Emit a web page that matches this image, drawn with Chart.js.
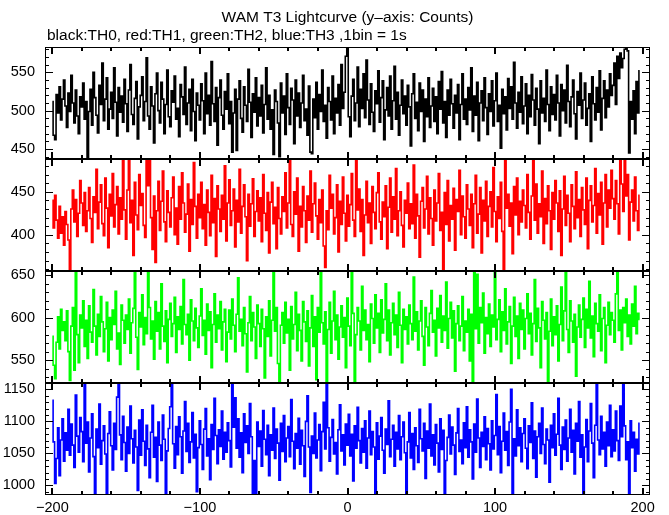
<!DOCTYPE html>
<html>
<head>
<meta charset="utf-8">
<script src="https://cdn.jsdelivr.net/npm/chart.js@4.4.1/dist/chart.umd.min.js"></script>
<style>
  html, body { margin: 0; padding: 0; background: #fff; }
  #lc { display: block; }
</style>
</head>
<body>
<canvas id="lc" width="669" height="515"></canvas>
<script>
// ─── DATA: counts per 1 s bin, first bin at t = -200 s ───
const T0 = -200;

const th0 = [
  512, 468, 462, 521, 497, 531, 488, 515, 540, 506, 478, 523, 499, 546, 510, 484, 527, 493, 470, 518,
  505, 536, 489, 512, 438, 499, 528, 481, 550, 517, 494, 471, 533, 508, 562, 487, 515, 543, 476, 502,
  524, 490, 556, 511, 467, 530, 498, 519, 485, 541, 509, 473, 527, 560, 495, 482, 516, 538, 463, 505,
  520, 544, 487, 512, 569, 493, 476, 531, 506, 458, 522, 549, 500, 484, 537, 515, 470, 508, 553, 492,
  479, 526, 511, 545, 489, 503, 466, 534, 518, 495, 557, 482, 510, 528, 474, 541, 499, 461, 523, 507,
  488, 535, 513, 470, 549, 496, 520, 481, 564, 509, 486, 530, 455, 517, 540, 494, 476, 525, 502, 548,
  483, 512, 446, 497, 528, 448, 515, 539, 490, 472, 531, 507, 486, 554, 511, 465, 522, 498, 543, 480,
  517, 493, 533, 471, 508, 556, 489, 520, 476, 501, 443, 527, 512, 484, 440, 536, 497, 519, 469, 548,
  504, 482, 529, 514, 457, 540, 493, 523, 478, 510, 546, 487, 502, 468, 532, 446, 444, 515, 491, 537,
  476, 521, 499, 553, 486, 507, 464, 530, 512, 488, 545, 470, 516, 497, 534, 481, 560, 503, 524, 571,
  583, 492, 466, 519, 541, 487, 510, 557, 479, 528, 503, 548, 491, 566, 514, 482, 535, 498, 473, 526,
  509, 552, 485, 517, 539, 462, 501, 530, 493, 545, 476, 513, 558, 489, 524, 468, 507, 540, 496, 519,
  481, 533, 505, 454, 522, 548, 490, 511, 474, 536, 499, 527, 460, 515, 492, 543, 478, 506, 529, 486,
  518, 470, 538, 502, 551, 484, 512, 465, 527, 494, 541, 509, 477, 520, 497, 534, 462, 508, 548, 489,
  515, 482, 530, 501, 556, 473, 519, 494, 537, 461, 510, 526, 487, 543, 504, 469, 522, 499, 539, 480,
  513, 549, 486, 507, 451, 528, 496, 518, 475, 542, 503, 531, 489, 563, 510, 477, 524, 498, 544, 483,
  506, 535, 470, 520, 492, 547, 514, 481, 529, 502, 457, 539, 497, 516, 486, 553, 508, 474, 531, 495,
  521, 488, 546, 510, 467, 534, 500, 527, 484, 559, 512, 479, 518, 540, 496, 463, 525, 507, 549, 490,
  514, 536, 481, 503, 522, 460, 544, 509, 488, 530, 498, 552, 475, 516, 539, 491, 527, 505, 548, 520,
  533, 562, 508, 571, 542, 575, 556, 568, 580, 583, 578, 445, 512, 489, 526, 470, 538, 497, 552
];

const th1 = [
  440, 408, 446, 417, 396, 433, 402, 421, 388, 427, 412, 394, 360, 430, 452, 415, 441, 398, 425, 463,
  437, 411, 449, 404, 428, 455, 419, 391, 444, 426, 476, 407, 438, 458, 413, 399, 466, 431, 385, 447,
  422, 471, 409, 435, 456, 401, 443, 418, 488, 429, 395, 452, 488, 414, 440, 376, 461, 423, 406, 470,
  434, 448, 411, 397, 486, 457, 488, 420, 383, 445, 368, 428, 462, 405, 439, 474, 415, 392, 451, 426,
  409, 443, 467, 400, 431, 389, 456, 418, 472, 437, 403, 424, 459, 381, 441, 412, 484, 433, 396, 447,
  420, 461, 407, 435, 388, 452, 426, 399, 469, 414, 442, 375, 457, 430, 404, 446, 418, 480, 393, 437,
  464, 411, 428, 453, 386, 440, 415, 476, 402, 433, 458, 421, 370, 447, 410, 436, 465, 398, 427, 451,
  416, 443, 392, 470, 425, 405, 449, 379, 438, 461, 413, 432, 384, 455, 419, 401, 444, 427, 472, 408,
  437, 488, 412, 398, 450, 424, 466, 381, 433, 409, 456, 428, 391, 445, 417, 474, 403, 436, 460, 422,
  395, 441, 414, 452, 387, 362, 428, 406, 469, 431, 447, 401, 420, 458, 380, 439, 412, 467, 425, 393,
  446, 410, 435, 471, 417, 398, 488, 429, 453, 404, 441, 376, 423, 462, 414, 437, 390, 456, 426, 407,
  449, 472, 415, 395, 438, 421, 457, 384, 432, 466, 403, 444, 418, 477, 399, 428, 450, 411, 386, 440,
  425, 460, 407, 436, 413, 481, 396, 447, 422, 374, 439, 455, 408, 430, 468, 401, 443, 419, 388, 452,
  416, 437, 471, 405, 426, 358, 449, 412, 463, 393, 434, 418, 454, 382, 441, 427, 475, 400, 445, 421,
  396, 458, 430, 411, 447, 385, 436, 469, 402, 424, 455, 379, 440, 416, 462, 398, 433, 450, 409, 478,
  427, 392, 444, 419, 461, 404, 358, 488, 431, 447, 410, 437, 378, 456, 423, 466, 400, 439, 415, 452,
  434, 408, 470, 426, 395, 445, 488, 417, 459, 402, 436, 421, 474, 390, 442, 413, 457, 428, 383, 449,
  418, 463, 437, 404, 451, 376, 430, 468, 411, 446, 425, 392, 458, 433, 407, 473, 420, 441, 398, 455,
  429, 412, 466, 384, 440, 457, 415, 434, 477, 402, 448, 423, 461, 389, 437, 470, 409, 452, 431, 475,
  442, 418, 463, 436, 401, 486, 459, 427, 488, 445, 470, 394, 438, 452, 416, 467, 428, 405, 446
];

const th2 = [
  578, 544, 528, 571, 601, 563, 610, 585, 595, 573, 608, 560, 526, 590, 612, 538, 655, 580, 547, 603,
  588, 620, 566, 597, 552, 614, 583, 571, 633, 590, 556, 604, 578, 625, 595, 560, 587, 618, 549, 600,
  574, 609, 592, 631, 563, 582, 545, 615, 597, 570, 603, 586, 622, 558, 594, 611, 655, 577, 539, 606,
  589, 627, 568, 600, 581, 655, 612, 575, 596, 551, 619, 584, 606, 563, 640, 590, 572, 608, 547, 598,
  617, 578, 593, 624, 559, 601, 586, 613, 569, 645, 592, 580, 604, 550, 621, 596, 573, 611, 588, 565,
  602, 634, 579, 597, 557, 616, 585, 607, 541, 592, 628, 571, 603, 587, 619, 562, 595, 610, 548, 583,
  609, 575, 622, 591, 560, 604, 647, 584, 598, 567, 612, 581, 536, 594, 625, 573, 606, 589, 552, 615,
  593, 566, 610, 587, 529, 601, 578, 620, 555, 597, 655, 584, 612, 546, 523, 591, 606, 570, 618, 582,
  598, 538, 613, 575, 592, 630, 561, 604, 585, 549, 619, 595, 572, 608, 543, 588, 626, 566, 601, 527,
  612, 583, 655, 594, 569, 607, 523, 586, 618, 558, 596, 631, 574, 603, 551, 589, 614, 577, 600, 541,
  623, 590, 567, 655, 605, 523, 580, 612, 596, 562, 637, 585, 609, 574, 592, 548, 616, 599, 570, 627,
  588, 605, 559, 621, 582, 598, 640, 573, 609, 556, 594, 617, 580, 603, 565, 630, 591, 547, 610, 586,
  601, 569, 615, 593, 574, 648, 584, 607, 562, 596, 620, 578, 544, 612, 589, 567, 605, 632, 583, 597,
  555, 611, 588, 626, 571, 602, 585, 642, 564, 599, 618, 576, 608, 537, 593, 614, 573, 590, 625, 561,
  596, 583, 610, 549, 604, 523, 655, 587, 651, 570, 612, 594, 629, 558, 600, 581, 616, 566, 603, 589,
  655, 574, 598, 621, 560, 607, 585, 634, 569, 595, 613, 546, 590, 624, 578, 602, 552, 617, 586, 609,
  563, 599, 628, 581, 605, 556, 593, 645, 572, 611, 588, 541, 619, 597, 575, 606, 523, 584, 622, 567,
  601, 580, 614, 549, 592, 636, 573, 608, 655, 586, 559, 620, 596, 571, 604, 531, 589, 615, 577, 598,
  623, 565, 610, 588, 643, 576, 602, 554, 617, 593, 584, 627, 561, 599, 612, 547, 591, 618, 580, 606,
  597, 571, 628, 655, 585, 609, 562, 612, 594, 622, 578, 603, 569, 616, 590, 637, 581, 605, 598
];

const th3 = [
  1133, 1068, 1003, 1042, 1090, 1015, 1071, 1104, 1038, 1082, 1055, 1119, 1047, 1096, 1063, 1028, 1141, 1077, 1052, 1106,
  1084, 1037, 1160, 1066, 1099, 1021, 1074, 1112, 1045, 985, 1088, 1059, 1127, 1033, 1070, 1093, 1049, 985, 1081, 1115,
  1062, 1024, 1097, 1056, 1138, 1160, 1079, 1040, 1108, 1067, 1022, 1091, 1050, 1124, 1073, 1035, 1086, 1060, 992, 1102,
  1047, 1118, 1069, 1031, 1094, 1057, 1012, 1083, 1125, 1044, 1075, 1006, 1099, 1063, 1039, 1110, 1072, 986, 1054, 1089,
  1123, 1160, 1065, 1027, 1092, 1048, 1107, 1076, 1019, 1085, 1131, 1053, 1097, 1036, 1068, 1114, 1043, 1080, 990, 1059,
  1101, 1064, 1025, 1088, 1120, 1046, 1073, 1009, 1095, 1056, 1136, 1078, 1034, 1087, 1061, 1116, 1041, 1083, 1052, 1098,
  1070, 1029, 1160, 1091, 1137, 1058, 1104, 1044, 1082, 1020, 1112, 1067, 1093, 1050, 1128, 1076, 986, 1039, 988, 1099,
  1061, 1085, 1030, 1117, 1072, 1048, 1094, 1015, 1079, 1055, 1121, 1042, 1088, 1066, 1008, 1097, 1053, 1109, 1037, 1074,
  1092, 1045, 1134, 1069, 1026, 1081, 1058, 1105, 1033, 1086, 1062, 1014, 1100, 1140, 1060, 989, 1077, 1050, 1113, 1043,
  1071, 1095, 1023, 1084, 1130, 1057, 1160, 1090, 1038, 1075, 1103, 1049, 1067, 1018, 1087, 1126, 1054, 1079, 1032, 1096,
  1063, 1111, 1046, 1080, 1007, 1093, 1058, 1122, 1070, 1035, 1089, 1052, 1101, 1027, 1074, 1116, 1048, 1084, 1060, 987,
  1098, 1041, 1077, 1106, 1055, 1019, 1088, 1064, 1132, 1045, 1072, 1094, 1030, 1083, 1057, 1109, 1040, 1076, 1099, 1051,
  986, 1068, 1114, 1043, 1081, 1025, 1090, 1062, 1036, 1119, 1073, 1054, 1097, 1011, 1085, 1058, 1127, 1046, 1079, 1032,
  1095, 1066, 1021, 1104, 1056, 1086, 987, 1039, 1075, 1110, 1049, 1091, 1063, 1017, 1082, 1120, 1053, 1071, 1034, 1098,
  1059, 1123, 1044, 1087, 1068, 1010, 1096, 1052, 1135, 1074, 1028, 1083, 1061, 1107, 1040, 1089, 1065, 1024, 1101, 1057,
  1078, 1142, 1048, 1092, 1020, 1069, 1113, 1055, 1084, 1031, 1099, 1150, 985, 1073, 1046, 1118, 1062, 1090, 1037, 1081,
  1104, 1058, 1026, 1093, 1067, 1129, 1042, 1085, 1013, 1076, 1097, 1050, 1121, 1064, 1034, 1088, 1071, 1005, 1094, 1059,
  1112, 1047, 1080, 1136, 1063, 1025, 1091, 1056, 1102, 1038, 1074, 1119, 1052, 1086, 1018, 1097, 1069, 1131, 1044, 1079,
  986, 1060, 1103, 1037, 1085, 1128, 1066, 1012, 1094, 1160, 1071, 1048, 1108, 1057, 1083, 1030, 1099, 1062, 1125, 1045,
  1087, 1054, 1116, 1070, 1039, 1124, 1076, 1160, 1093, 1040, 1068, 988, 1101, 1059, 1083, 1022, 1072, 1049, 1097
];

// tick labels
const xTicks = [-200, -100, 0, 100, 200];
const yTicks0 = [450, 500, 550];
const yTicks1 = [400, 450];
const yTicks2 = [550, 600, 650];
const yTicks3 = [1000, 1050, 1100, 1150];

const TITLE = 'WAM T3 Lightcurve (y\u2013axis: Counts)';
const SUBTITLE = 'black:TH0, red:TH1, green:TH2, blue:TH3 ,1bin = 1s';

// ─── PANELS ───
const FONT = '"Liberation Sans", Arial, Helvetica, sans-serif';
const panels = [
  { axis: 'y0', data: th0, color: '#000000', min: 437, max: 583, ticks: yTicks0 },
  { axis: 'y1', data: th1, color: '#ff0000', min: 358, max: 488, ticks: yTicks1 },
  { axis: 'y2', data: th2, color: '#00ff00', min: 523, max: 655, ticks: yTicks2 },
  { axis: 'y3', data: th3, color: '#0000ff', min: 985, max: 1160, ticks: yTicks3 }
];

function toPoints(arr) {
  return arr.map((v, i) => ({ x: T0 + i, y: v }));
}

function yAxis(p) {
  return {
    type: 'linear',
    position: 'left',
    stack: 'lc',
    stackWeight: 1,
    min: p.min,
    max: p.max,
    grid: { display: false, drawTicks: false },
    border: { display: false },
    afterBuildTicks: s => { s.ticks = p.ticks.map(v => ({ value: v })); },
    afterFit: s => { s.width = 45; },
    ticks: {
      color: '#000',
      padding: 10,
      autoSkip: false,
      font: { family: FONT, size: 14.5 },
      callback: v => String(v)
    }
  };
}

// scales are listed bottom panel first: Chart.js puts the last stacked left axis on top
const scales = {
  x: {
    type: 'linear',
    min: -205,
    max: 205,
    grid: { display: false, drawTicks: false },
    border: { display: false },
    afterBuildTicks: s => { s.ticks = xTicks.map(v => ({ value: v })); },
    afterFit: s => { s.height = 20; },
    ticks: {
      color: '#000',
      padding: 4,
      maxRotation: 0,
      autoSkip: false,
      font: { family: FONT, size: 14.5 },
      callback: v => (v < 0 ? '\u2212' + Math.abs(v) : String(v))
    }
  }
};
for (let k = panels.length - 1; k >= 0; k--) scales[panels[k].axis] = yAxis(panels[k]);

// frames, inward ticks and the two title lines
const framePlugin = {
  id: 'frames',
  afterDatasetsDraw(chart) {
    const ctx = chart.ctx;
    const xs = chart.scales.x;
    const l = chart.chartArea.left, r = chart.chartArea.right;
    ctx.save();
    ctx.strokeStyle = '#000';
    for (const p of panels) {
      const ys = chart.scales[p.axis];
      const t = Math.round(ys.top), b = Math.round(ys.bottom);
      ctx.lineWidth = 1;
      ctx.strokeRect(l + 0.5, t + 0.5, r - l - 1, b - t - 1);
      // y ticks every 10 counts, labelled ones longer
      ctx.beginPath();
      for (let v = Math.ceil(p.min / 10) * 10; v <= p.max; v += 10) {
        const py = Math.round(ys.getPixelForValue(v)) + 0.5;
        const len = p.ticks.includes(v) ? 8 : 4;
        ctx.moveTo(l, py); ctx.lineTo(l + len, py);
        ctx.moveTo(r, py); ctx.lineTo(r - len, py);
      }
      ctx.stroke();
      // x ticks every 20 s
      ctx.lineWidth = 2;
      ctx.beginPath();
      for (let v = -200; v <= 200; v += 20) {
        const px = Math.round(xs.getPixelForValue(v));
        const len = xTicks.includes(v) ? 7 : 4;
        ctx.moveTo(px, t); ctx.lineTo(px, t + len);
        ctx.moveTo(px, b); ctx.lineTo(px, b - len);
      }
      ctx.stroke();
    }
    ctx.fillStyle = '#000';
    ctx.textBaseline = 'alphabetic';
    ctx.font = '15.5px ' + FONT;
    ctx.textAlign = 'center';
    ctx.fillText(TITLE, (l + r) / 2, 22);
    ctx.font = '15.5px ' + FONT;
    ctx.textAlign = 'left';
    ctx.fillText(SUBTITLE, l + 2, 40);
    ctx.restore();
  }
};

new Chart(document.getElementById('lc'), {
  type: 'line',
  data: {
    datasets: panels.map(p => ({
      label: p.axis,
      data: toPoints(p.data),
      xAxisID: 'x',
      yAxisID: p.axis,
      borderColor: p.color,
      borderWidth: 1.6,
      pointRadius: 0,
      stepped: 'middle',
      fill: false
    }))
  },
  options: {
    responsive: false,
    animation: false,
    devicePixelRatio: 1,
    layout: { padding: { top: 47, right: 19, bottom: 0, left: 0 } },
    plugins: {
      legend: { display: false },
      title: { display: false },
      tooltip: { enabled: false }
    },
    scales: scales
  },
  plugins: [framePlugin]
});
</script>
</body>
</html>
